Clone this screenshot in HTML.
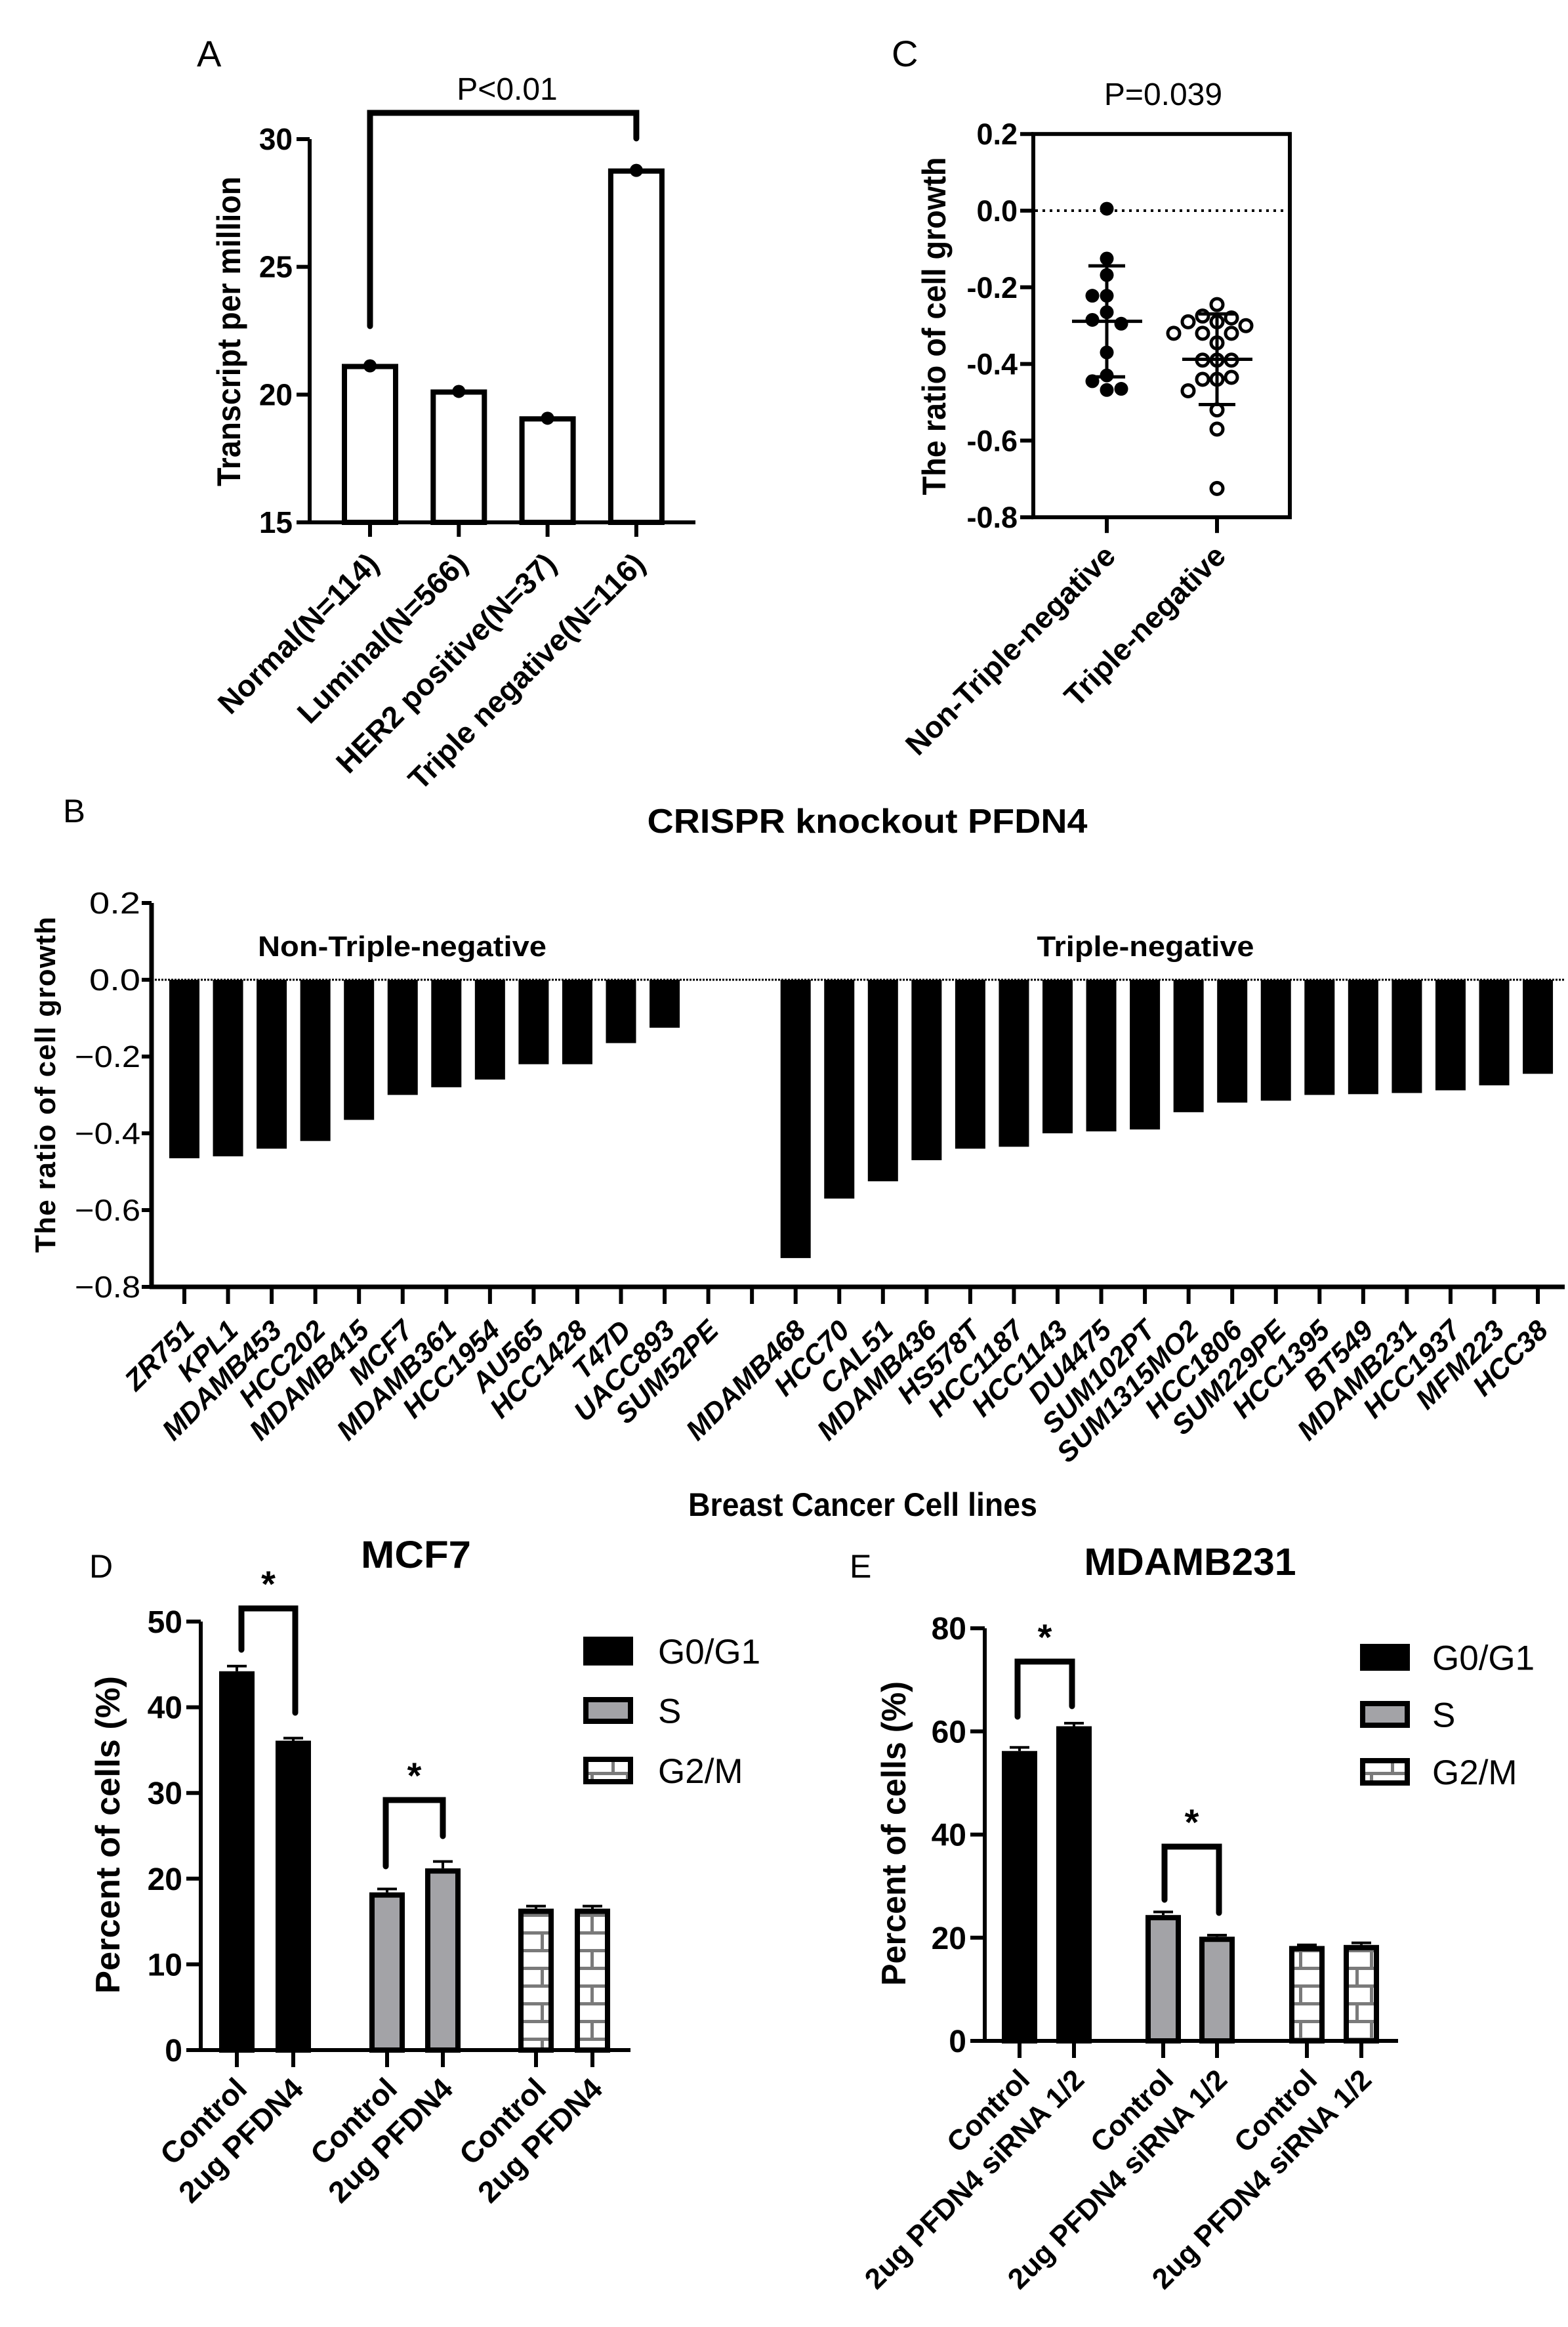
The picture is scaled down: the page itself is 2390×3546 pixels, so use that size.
<!DOCTYPE html>
<html><head><meta charset="utf-8"><title>PFDN4 figure</title>
<style>
html,body{margin:0;padding:0;background:#fff;}
svg{display:block;font-family:"Liberation Sans",Arial,sans-serif;}
</style></head>
<body>
<svg id="fig" xmlns="http://www.w3.org/2000/svg" width="2390" height="3546" viewBox="0 0 2390 3546" font-family="Liberation Sans, Arial, sans-serif">
<defs>
<pattern id="brick" patternUnits="userSpaceOnUse" width="54" height="54" x="0" y="0">
<rect width="54" height="54" fill="#fff"/>
<rect x="0" y="0" width="54" height="5" fill="#7a7a7a"/>
<rect x="0" y="27" width="54" height="5" fill="#7a7a7a"/>
<rect x="36" y="0" width="5" height="27" fill="#7a7a7a"/>
<rect x="14" y="27" width="5" height="27" fill="#7a7a7a"/>
</pattern>
</defs>
<text x="300" y="101" font-size="56">A</text>
<text x="773" y="152" font-size="48" text-anchor="middle">P&lt;0.01</text>
<text transform="translate(366,505) rotate(-90)" font-size="50" font-weight="bold" text-anchor="middle" textLength="472" lengthAdjust="spacingAndGlyphs">Transcript per million</text>

<text x="1359" y="101" font-size="56">C</text>
<text x="1773" y="160" font-size="48" text-anchor="middle">P=0.039</text>
<text transform="translate(1441,497) rotate(-90)" font-size="50" font-weight="bold" text-anchor="middle" textLength="515" lengthAdjust="spacingAndGlyphs">The ratio of cell growth</text>

<text x="96" y="1253" font-size="50" textLength="34" lengthAdjust="spacingAndGlyphs">B</text>
<text x="1322" y="1269" font-size="52" font-weight="bold" text-anchor="middle" textLength="671" lengthAdjust="spacingAndGlyphs">CRISPR knockout PFDN4</text>
<text x="613" y="1457" font-size="44" font-weight="bold" text-anchor="middle" textLength="440" lengthAdjust="spacingAndGlyphs">Non-Triple-negative</text>
<text x="1746" y="1457" font-size="44" font-weight="bold" text-anchor="middle" textLength="331" lengthAdjust="spacingAndGlyphs">Triple-negative</text>
<text transform="translate(84,1653) rotate(-90)" font-size="44" font-weight="bold" text-anchor="middle" textLength="512" lengthAdjust="spacing">The ratio of cell growth</text>
<text x="1315" y="2310" font-size="50" font-weight="bold" text-anchor="middle" textLength="532" lengthAdjust="spacingAndGlyphs">Breast Cancer Cell lines</text>

<text x="136" y="2404" font-size="50">D</text>
<text x="634" y="2389" font-size="58" font-weight="bold" text-anchor="middle" textLength="168" lengthAdjust="spacingAndGlyphs">MCF7</text>
<text transform="translate(182,2796) rotate(-90)" font-size="52" font-weight="bold" text-anchor="middle" textLength="484" lengthAdjust="spacingAndGlyphs">Percent of cells (%)</text>

<text x="1295" y="2404" font-size="50">E</text>
<text x="1814" y="2400" font-size="58" font-weight="bold" text-anchor="middle" textLength="323" lengthAdjust="spacingAndGlyphs">MDAMB231</text>
<text transform="translate(1380,2794) rotate(-90)" font-size="52" font-weight="bold" text-anchor="middle" textLength="464" lengthAdjust="spacingAndGlyphs">Percent of cells (%)</text>
<g id="dyn"></g>
</svg>
<script>
// ---------- Panel A data ----------
const aCategories = ["Normal(N=114)","Luminal(N=566)","HER2 positive(N=37)","Triple negative(N=116)"];
const aValues = [21.1, 20.1, 19.05, 28.75];
const aTicks = [15, 20, 25, 30];
// ---------- Panel C data ----------
const cCategories = ["Non-Triple-negative","Triple-negative"];
const cNonTN = [0.005,-0.125,-0.168,-0.222,-0.222,-0.265,-0.285,-0.295,-0.37,-0.43,-0.445,-0.468,-0.465];
const cTN = [-0.245,-0.275,-0.28,-0.29,-0.29,-0.3,-0.32,-0.32,-0.32,-0.345,-0.39,-0.39,-0.39,-0.44,-0.44,-0.435,-0.47,-0.52,-0.57,-0.725];
const cTicks = [0.2, 0.0, -0.2, -0.4, -0.6, -0.8];
const cTickLabels = ["0.2","0.0","-0.2","-0.4","-0.6","-0.8"];
// ---------- Panel B data ----------
const bCellLines = ["ZR751","KPL1","MDAMB453","HCC202","MDAMB415","MCF7","MDAMB361","HCC1954","AU565","HCC1428","T47D","UACC893","SUM52PE","",
 "MDAMB468","HCC70","CAL51","MDAMB436","HS578T","HCC1187","HCC1143","DU4475","SUM102PT","SUM1315MO2","HCC1806","SUM229PE","HCC1395","BT549","MDAMB231","HCC1937","MFM223","HCC38"];
const bValues = [-0.465,-0.46,-0.44,-0.42,-0.365,-0.3,-0.28,-0.26,-0.22,-0.22,-0.165,-0.125,0,0,
 -0.725,-0.57,-0.525,-0.47,-0.44,-0.435,-0.4,-0.395,-0.39,-0.345,-0.32,-0.315,-0.3,-0.298,-0.295,-0.288,-0.275,-0.245];
const bTicks = [0.2, 0.0, -0.2, -0.4, -0.6, -0.8];
const bTickLabels = ["0.2","0.0","\u22120.2","\u22120.4","\u22120.6","\u22120.8"];
// ---------- Panel D data ----------
const dPhases = ["G0/G1","S","G2/M"];
const dControl = [44.2, 18.4, 16.5];
const dTreated = [36.1, 21.2, 16.5];
const dControlErr = [0.6, 0.4, 0.3];
const dTreatedErr = [0.3, 0.8, 0.3];
const dTicks = [0,10,20,30,40,50];
const dLabels = ["Control","2ug PFDN4"];
// ---------- Panel E data ----------
const eControl = [56.2, 24.4, 18.4];
const eTreated = [61.0, 20.2, 18.6];
const eControlErr = [0.7, 0.6, 0.2];
const eTreatedErr = [0.6, 0.3, 0.4];
const eTicks = [0,20,40,60,80];
const eLabels = ["Control","2ug PFDN4 siRNA 1/2"];

const NS = "http://www.w3.org/2000/svg";
const root = document.getElementById("dyn");
function el(tag, attrs, parent){
  const e = document.createElementNS(NS, tag);
  for (const k in attrs) e.setAttribute(k, attrs[k]);
  (parent||root).appendChild(e);
  return e;
}
function txt(str, attrs, parent){ const t = el("text", attrs, parent); t.textContent = str; return t; }

// ================= Panel A =================
const yA = v => 796 - (v - 15) * (584 / 15);
const xA = i => 564 + i * 135.3;
{
  const g = el("g", {});
  
  
  aValues.forEach((v, i) => {
    const r = el("rect", {x: xA(i) - 39, y: yA(v), width: 78, height: yA(15) - yA(v), fill: "#fff", stroke: "#000", "stroke-width": 8}, g);
    
    
    const c = el("circle", {cx: xA(i), cy: yA(v) - 1, r: 10, fill: "#000"}, g);
    
    
  });
  const ax = el("path", {d: `M472 ${yA(30)} V${yA(15)+3} M468 ${yA(15)} H1060`, stroke: "#000", "stroke-width": 6, fill: "none"}, g);
  
  
  aTicks.forEach(t => {
    el("line", {x1: 452, x2: 472, y1: yA(t), y2: yA(t), stroke: "#000", "stroke-width": 6}, g);
    const l = txt(String(t), {x: 446, y: yA(t) + 16, "font-size": 46, "font-weight": "bold", "text-anchor": "end"}, g);
    
    
  });
  aCategories.forEach((c, i) => {
    el("line", {x1: xA(i), x2: xA(i), y1: yA(15), y2: 818, stroke: "#000", "stroke-width": 6}, g);
    const l = txt(c, {transform: `translate(${xA(i)+16},${862}) rotate(-45)`, "font-size": 46, "font-weight": "bold", "text-anchor": "end"}, g);
    
    
  });
  const br = el("path", {d: `M${xA(0)} 497 V172 H${xA(3)} V211`, stroke: "#000", "stroke-width": 9, fill: "none", "stroke-linecap": "round"}, g);
  
  
}

// ================= Panel C =================
const yC = v => 321 - v * 584;
const xC = i => 1687 + i * 168;
{
  const g = el("g", {});
  
  
  const box = el("rect", {x: 1575, y: yC(0.2), width: 391, height: yC(-0.8) - yC(0.2), fill: "none", stroke: "#000", "stroke-width": 6}, g);
  
  
  const zl = el("line", {x1: 1578, x2: 1963, y1: yC(0), y2: yC(0), stroke: "#000", "stroke-width": 4, "stroke-dasharray": "4 7"}, g);
  
  
  cTicks.forEach((t, k) => {
    el("line", {x1: 1555, x2: 1575, y1: yC(t), y2: yC(t), stroke: "#000", "stroke-width": 6}, g);
    const l = txt(cTickLabels[k], {x: 1551, y: yC(t) + 16, "font-size": 45, "font-weight": "bold", "text-anchor": "end"}, g);
    
    
  });
  [cNonTN, cTN].forEach((arr, gi) => {
    const cx = xC(gi);
    el("line", {x1: cx, x2: cx, y1: yC(-0.8), y2: yC(-0.8) + 24, stroke: "#000", "stroke-width": 6}, g);
    const l = txt(cCategories[gi], {transform: `translate(${cx+16},${850}) rotate(-45)`, "font-size": 46, "font-weight": "bold", "text-anchor": "end"}, g);
    
    
    const placed = [];
    const step = 22;
    const seq = [0, -1, 1, -2, 2, -3, 3];
    arr.forEach(v => {
      const py = yC(v);
      let off = cx;
      for (const s of seq) {
        const px = cx + s * step;
        if (!placed.some(p => Math.hypot(p[0]-px, p[1]-py) < 22)) { off = px; break; }
      }
      placed.push([off, py]);
      const c = el("circle", gi === 0 ? {cx: off, cy: py, r: 10.5, fill: "#000"} : {cx: off, cy: py, r: 9, fill: "#fff", stroke: "#000", "stroke-width": 5}, g);
      
      
    });
    const mean = arr.reduce((a,b)=>a+b,0)/arr.length;
    const sd = Math.sqrt(arr.reduce((a,b)=>a+(b-mean)*(b-mean),0)/(arr.length-1));
    const ms = el("path", {d: `M${cx-53} ${yC(mean)} H${cx+54} M${cx} ${yC(mean+sd)} V${yC(mean-sd)} M${cx-28} ${yC(mean+sd)} H${cx+28} M${cx-28} ${yC(mean-sd)} H${cx+28}`, stroke: "#000", "stroke-width": 5, fill: "none"}, g);
    
    
  });
}

// ================= Panel B =================
const yB = v => 1493 - v * 585;
const xB = i => 281 + i * 66.55;
{
  const g = el("g", {});
  
  
  const zl = el("line", {x1: 231, x2: 2385, y1: yB(0), y2: yB(0), stroke: "#000", "stroke-width": 3, "stroke-dasharray": "3 2"}, g);
  
  
  bValues.forEach((v, i) => {
    if (v === 0) return;
    const r = el("rect", {x: xB(i) - 23, y: yB(0), width: 46, height: yB(v) - yB(0), fill: "#000"}, g);
    
    
  });
  const ax = el("path", {d: `M231 ${yB(0.2)} V${yB(-0.8)+3} M228 ${yB(-0.8)} H2385`, stroke: "#000", "stroke-width": 7, fill: "none"}, g);
  
  
  bTicks.forEach((t, k) => {
    el("line", {x1: 216, x2: 231, y1: yB(t), y2: yB(t), stroke: "#000", "stroke-width": 6}, g);
    const l = txt(bTickLabels[k], {x: 214, y: yB(t) + 16, "font-size": 46, "text-anchor": "end", textLength: bTickLabels[k].length > 3 ? 100 : 78, lengthAdjust: "spacingAndGlyphs"}, g);
    
    
  });
  bCellLines.forEach((c, i) => {
    el("line", {x1: xB(i), x2: xB(i), y1: yB(-0.8), y2: yB(-0.8) + 26, stroke: "#000", "stroke-width": 6}, g);
    if (!c) return;
    const l = txt(c, {transform: `translate(${xB(i)+18},${2030}) rotate(-45)`, "font-size": 43, "font-weight": "bold", "font-style": "italic", "text-anchor": "end"}, g);
    
    
  });
}

// ================= Panels D & E =================
function groupedPanel(opts) {
  const {name, y, xs, ctrl, trt, ctrlErr, trtErr, ticks, labels, axisX, axisRight, tickRight, legendX, legendTextX, legendYs, brackets, labelFont} = opts;
  const g = el("g", {});
  
  
  const fills = ["#000", "#a3a3a7", "url(#brick)"];
  dPhases.forEach((ph, p) => {
    [[ctrl, ctrlErr], [trt, trtErr]].forEach(([vals, errs], k) => {
      const cx = xs[p*2 + k];
      const v = vals[p], e = errs[p];
      const eb = el("path", {d: `M${cx} ${y(v)} V${y(v+e)} M${cx-15} ${y(v+e)} H${cx+15}`, stroke: "#000", "stroke-width": 4, fill: "none"}, g);
      
      
      const r = el("rect", {x: cx - 23, y: y(v) + 4, width: 46, height: y(0) - y(v) - 4, fill: fills[p], stroke: "#000", "stroke-width": 8}, g);
      
      
    });
  });
  const ax = el("path", {d: `M${axisX} ${y(ticks[ticks.length-1])} V${y(0)+3} M${axisX-4} ${y(0)} H${axisRight}`, stroke: "#000", "stroke-width": 6, fill: "none"}, g);
  
  
  ticks.forEach(t => {
    el("line", {x1: axisX - 22, x2: axisX, y1: y(t), y2: y(t), stroke: "#000", "stroke-width": 6}, g);
    const l = txt(String(t), {x: tickRight, y: y(t) + 17, "font-size": 48, "font-weight": "bold", "text-anchor": "end"}, g);
    
    
  });
  xs.forEach((cx, i) => {
    el("line", {x1: cx, x2: cx, y1: y(0), y2: y(0) + 26, stroke: "#000", "stroke-width": 6}, g);
    const l = txt(labels[i % 2], {transform: `translate(${cx+18},${y(0)+62}) rotate(-45)`, "font-size": labelFont, "font-weight": "bold", "text-anchor": "end"}, g);
    
    
  });
  brackets.forEach(b => {
    const p = el("path", {d: `M${b.x1} ${b.y1} V${b.top} H${b.x2} V${b.y2}`, stroke: "#000", "stroke-width": 9, fill: "none", "stroke-linecap": "round"}, g);
    
    
    const s = txt("*", {x: (b.x1 + b.x2) / 2, y: b.top - 18, "font-size": 56, "font-weight": "bold", "text-anchor": "middle"}, g);
    
    
  });
  dPhases.forEach((ph, p) => {
    const [y1, y2] = legendYs[p];
    const sw = el("rect", {x: legendX + (p ? 4 : 0), y: y1 + (p ? 4 : 0), width: 76 - (p ? 8 : 0), height: y2 - y1 - (p ? 8 : 0), fill: fills[p], stroke: p ? "#000" : "none", "stroke-width": 8}, g);
    
    
    const t = txt(ph, {x: legendTextX, y: (y1 + y2) / 2 + 19, "font-size": 53}, g);
    
    
  });
}
const yD = v => 3124 - v * 13.06;
groupedPanel({name: "panel-d", y: yD, xs: [361,447,590,675,817,903], ctrl: dControl, trt: dTreated, ctrlErr: dControlErr, trtErr: dTreatedErr,
  ticks: dTicks, labels: dLabels, axisX: 306, axisRight: 961, tickRight: 278, legendX: 889, legendTextX: 1003,
  legendYs: [[2494,2538],[2586,2627],[2677,2719]], labelFont: 46,
  brackets: [{x1: 368, x2: 450, top: 2451, y1: 2514, y2: 2610}, {x1: 588, x2: 675, top: 2743, y1: 2844, y2: 2798}]});
const yE = v => 3110 - v * 7.86;
groupedPanel({name: "panel-e", y: yE, xs: [1554,1637,1773,1855,1992,2075], ctrl: eControl, trt: eTreated, ctrlErr: eControlErr, trtErr: eTreatedErr,
  ticks: eTicks, labels: eLabels, axisX: 1501, axisRight: 2131, tickRight: 1473, legendX: 2073, legendTextX: 2183,
  legendYs: [[2505,2546],[2592,2633],[2679,2721]], labelFont: 44,
  brackets: [{x1: 1551, x2: 1634, top: 2532, y1: 2616, y2: 2600}, {x1: 1775, x2: 1858, top: 2814, y1: 2895, y2: 2915}]});
</script>
</body></html>
